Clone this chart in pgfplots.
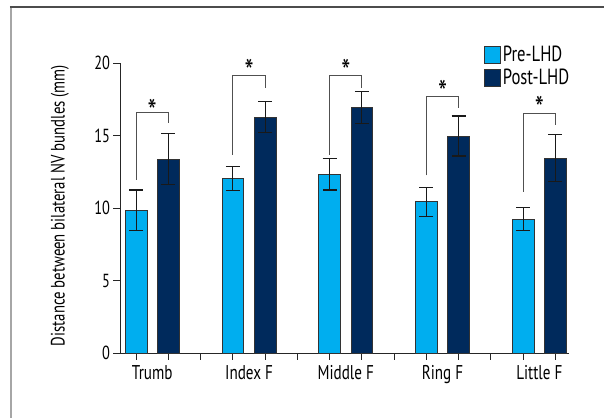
\documentclass[border=0pt]{standalone}
\usepackage{pgfplots}
\pgfplotsset{compat=1.18}
\usepackage{fontspec}
\setmainfont{PT Sans}[FakeStretch=0.76]
\definecolor{preC}{RGB}{0,174,239}
\definecolor{postC}{RGB}{0,42,92}
\definecolor{brk}{RGB}{80,80,80}
\begin{document}
\begin{tikzpicture}
\useasboundingbox (-120bp,-65bp) rectangle (484bp,353bp);
\draw[gray!70, line width=2bp] (-109bp,346bp) -- (-109bp,-70bp);
\draw[black!70, line width=1.2bp] (-110bp,346bp) -- (490bp,346bp);
\begin{axis}[
  at={(0,0)}, anchor=south west, scale only axis, clip=false,
  width=449bp, height=289.7bp,
  xmin=-0.5, xmax=13.42, ymin=0, ymax=20,
  axis x line*=bottom, axis y line*=left,
  ytick={0,5,10,15,20},
  xtick={0,...,13}, xticklabels={},
  extra x ticks={0.5,3.5,6.5,9.5,12.5},
  extra x tick labels={Trumb,Index F,Middle F,Ring F,Little F},
  extra x tick style={major tick length=0pt, tick label style={font=\fontsize{20}{22}\selectfont, yshift=-9bp}},
  tick align=outside, major tick length=6.5bp,
  tick style={black!85, line width=0.9bp},
  axis line style={black!85, line width=0.9bp},
  /pgf/number format/assume math mode=true,
  yticklabel style={font=\fontsize{19}{20}\selectfont},
  ylabel={Distance between bilateral NV bundles (mm)},
  ylabel style={font=\fontsize{19.5}{20}\selectfont, at={(axis description cs:-0.134,0.509)}, anchor=center},
  ybar, bar width=21.7bp,
  legend style={at={(axis description cs:0.81,1.067)}, anchor=north west, draw=none, fill=none,
    font=\fontsize{22}{24}\selectfont, row sep=2bp, inner sep=0pt},
  legend cell align=left,
  legend image code/.code={\draw[#1, draw=black!80, line width=0.9bp] (0bp,-8.5bp) rectangle (16bp,8.5bp);},
  error bars/error bar style={line width=1.1bp, black!90},
  error bars/error mark options={rotate=90, mark size=7bp, line width=1.1bp, black!90},
]
\addplot[bar shift=0pt, fill=preC, draw=black!80, line width=0.9bp,
  error bars/.cd, y dir=both, y explicit] coordinates {
  (0,9.84) +- (0,1.41)
  (3,12.06) +- (0,0.83)
  (6,12.34) +- (0,1.09)
  (9,10.44) +- (0,1.01)
  (12,9.24) +- (0,0.81)
};
\addplot[bar shift=0pt, fill=postC, draw=black!80, line width=0.9bp,
  error bars/.cd, y dir=both, y explicit] coordinates {
  (1,13.39) +- (0,1.78)
  (4,16.28) +- (0,1.08)
  (7,16.95) +- (0,1.08)
  (10,14.98) +- (0,1.38)
  (13,13.46) +- (0,1.62)
};
\legend{Pre-LHD,Post-LHD}
\addplot[brk, line width=1.1bp, sharp plot, no marks, forget plot] coordinates {(0,11.97) (0,16.63) (1,16.63) (1,15.87)};
\addplot[brk, line width=1.1bp, sharp plot, no marks, forget plot] coordinates {(3,13.69) (3,19.15) (4,19.15) (4,18.28)};
\addplot[brk, line width=1.1bp, sharp plot, no marks, forget plot] coordinates {(6,13.69) (6,19.15) (7,19.15) (7,18.28)};
\addplot[brk, line width=1.1bp, sharp plot, no marks, forget plot] coordinates {(9,12.27) (9,17.68) (10,17.68) (10,16.90)};
\addplot[brk, line width=1.1bp, sharp plot, no marks, forget plot] coordinates {(12,11.12) (12,16.56) (13,16.56) (13,15.76)};
\node[font=\fontsize{34}{34}\selectfont, anchor=base] at (axis cs:0.5,15.84) {*};
\node[font=\fontsize{34}{34}\selectfont, anchor=base] at (axis cs:3.5,18.58) {*};
\node[font=\fontsize{34}{34}\selectfont, anchor=base] at (axis cs:6.5,18.58) {*};
\node[font=\fontsize{34}{34}\selectfont, anchor=base] at (axis cs:9.5,17.18) {*};
\node[font=\fontsize{34}{34}\selectfont, anchor=base] at (axis cs:12.5,16.08) {*};
\end{axis}
\end{tikzpicture}
\end{document}
